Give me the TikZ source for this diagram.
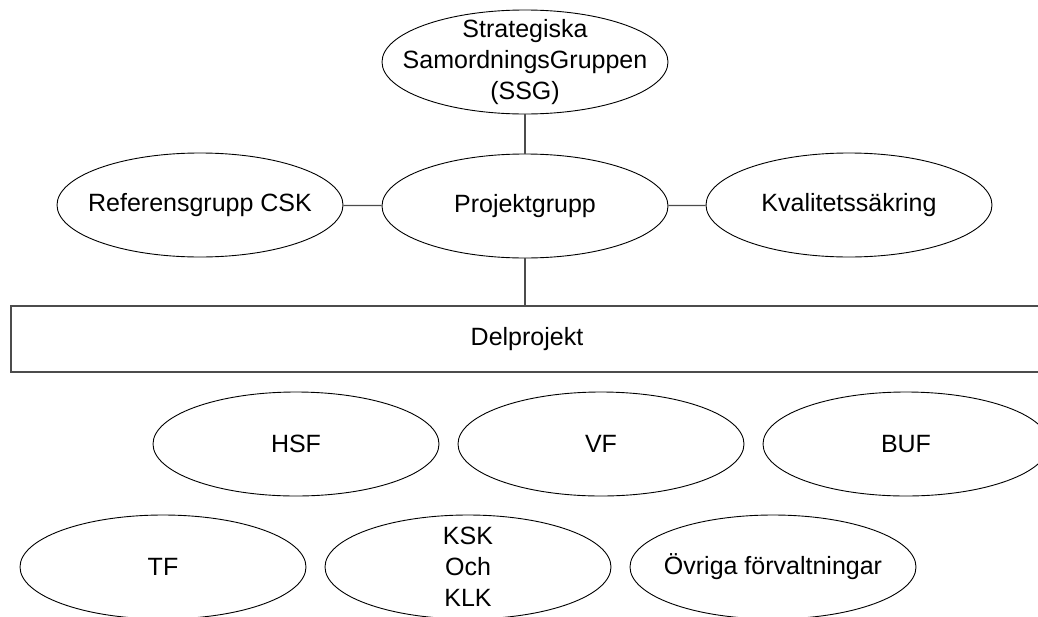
\documentclass[tikz,border=0pt]{standalone}
\usepackage{fontspec}
\setmainfont{Liberation Sans}
\usetikzlibrary{shapes.geometric}

\begin{document}
\begin{tikzpicture}[x=1pt, y=-1pt, font=\fontsize{25}{31}\selectfont]
	\useasboundingbox (0,0) rectangle (1038,616);
	\clip (0,0) rectangle (1038,616);
	\begin{scope}[grp/.style = {ellipse, draw=black, line width=0.9pt,
			minimum width=286pt, minimum height=104pt, inner sep=0pt,
			label={[align=center]center:#1}},
			delbox/.style = {rectangle, draw=black!70, line width=1.2pt,
			minimum width=1032pt, minimum height=66pt, inner sep=0pt}]
		\node[grp={Strategiska\\SamordningsGruppen\\(SSG)}] (ssg) at (525,62) {};
		\node[grp=Projektgrupp] (pg) at (525,206) {};
		\node[grp=Referensgrupp CSK] (ref) at (200,205) {};
		\node[grp=Kvalitetssäkring] (kval) at (849,205) {};
		\node[delbox] (del) at (527,339) {Delprojekt};
		\node[grp=HSF] (hsf) at (296,444) {};
		\node[grp=VF] (vf) at (601,444) {};
		\node[grp=BUF] (buf) at (906,444) {};
		\node[grp=TF] (tf) at (163,567) {};
		\node[grp={KSK\\Och\\KLK}] (ksk) at (468,567) {};
		\node[grp=Övriga förvaltningar] (ovr) at (773,567) {};
	\end{scope}
	\begin{scope}[every edge/.style={draw=black!70, line width=1.2pt}]
		\path [-] (ssg) edge (pg);
		\path [-] (pg) edge (ref);
		\path [-] (pg) edge (kval);
		\path [-] (pg.south) edge (pg.south |- del.north);
	\end{scope}
\end{tikzpicture}
\end{document}
